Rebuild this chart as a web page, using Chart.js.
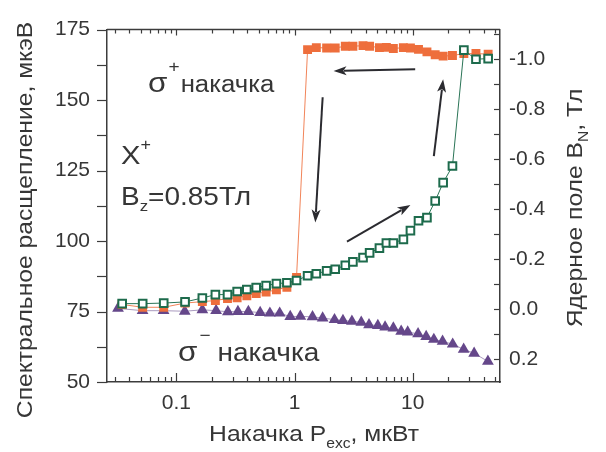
<!DOCTYPE html>
<html>
<head>
<meta charset="utf-8">
<script src="https://cdn.jsdelivr.net/npm/chart.js@4.4.1/dist/chart.umd.min.js"></script>
<style>
  html, body { margin: 0; padding: 0; background: #fff; }
  #wrap { width: 606px; height: 452px; }
</style>
</head>
<body>
<div id="wrap"><canvas id="myChart"></canvas></div>
<script>
// excitation power, uW (square series)
const powerSq = [0.0348, 0.0519, 0.0782, 0.1185, 0.166, 0.214, 0.271, 0.327, 0.395, 0.474,
  0.575, 0.703, 0.862, 1.04, 1.29, 1.53, 1.87, 2.21, 2.69, 3.12, 3.80, 4.32, 5.23, 5.99,
  6.86, 8.34, 9.57, 11.2, 13.2, 15.5, 18.1, 21.7, 27.1, 34.3, 43.5];
// sigma+ pumping, splitting (ueV), filled orange squares
const splitPlus = [77.5, 76.5, 76.5, 78.0, 78.5, 78.9, 79.6, 79.9, 80.6, 81.4,
  81.9, 82.7, 83.6, 87.1, 167.9, 168.6, 168.5, 168.5, 169.1, 169.1, 169.3, 169.1, 168.6, 168.7,
  168.3, 168.6, 168.5, 168.0, 167.1, 166.1, 165.6, 165.8, 166.5, 166.5, 166.3];
// increasing power, open green squares
const splitUp = [77.8, 77.8, 78.0, 78.4, 79.8, 81.0, 81.0, 82.1, 82.8, 83.5,
  84.2, 84.9, 85.2, 86.0, 87.7, 88.4, 89.4, 90.0, 91.4, 92.6, 94.1, 95.8, 97.5, 99.3,
  99.3, 100.6, 103.7, 107.2, 108.3, 114.2, 120.7, 126.6, 167.7, 164.5, 164.7];
// sigma- pumping, triangles
const powerTri = [0.0321, 0.0518, 0.0780, 0.1178, 0.166, 0.217, 0.273, 0.332, 0.407, 0.512,
  0.619, 0.749, 0.920, 1.12, 1.42, 1.73, 2.18, 2.57, 3.06, 3.67, 4.27, 5.07, 5.84, 6.86,
  7.99, 9.07, 11.1, 13.0, 15.1, 17.9, 21.8, 27.0, 33.1, 43.3];
const splitMinus = [76.1, 75.3, 75.3, 75.1, 75.6, 75.3, 74.9, 75.0, 75.0, 74.6,
  74.4, 74.4, 73.2, 73.3, 73.1, 72.7, 72.1, 71.8, 71.5, 71.2, 70.3, 70.0, 69.5, 69.1,
  68.0, 67.7, 67.1, 66.1, 65.1, 64.4, 63.4, 61.6, 60.2, 57.3];

const xMajor = [0.1, 1, 10];
const leftTicks = [50, 75, 100, 125, 150, 175];
const rightTicks = [-1.0, -0.8, -0.6, -0.4, -0.2, 0.0, 0.2];

const FONT = '"Liberation Sans", Arial, sans-serif';
const TXT = '#363636';
const AX = '#3c3c3c';
const SX = 1.12;

const toPts = (xs, ys) => xs.map((x, i) => ({x: x, y: ys[i]}));

// rich text with super/subscripts, slightly stretched like the original
function drawRich(ctx, parts, x, y, rot, align) {
  ctx.save();
  ctx.translate(x, y);
  if (rot) ctx.rotate(rot);
  ctx.scale(SX, 1);
  let total = 0;
  parts.forEach(p => {
    ctx.font = p.size + 'px ' + FONT;
    p.w = ctx.measureText(p.text).width;
    total += p.w + (p.gap || 0);
  });
  let cx = align === 'center' ? -total / 2 : 0;
  ctx.fillStyle = TXT;
  ctx.textBaseline = 'alphabetic';
  parts.forEach(p => {
    ctx.font = p.size + 'px ' + FONT;
    cx += (p.gap || 0);
    ctx.fillText(p.text, cx, p.dy || 0);
    cx += p.w;
  });
  ctx.restore();
}

function arrow(ctx, x1, y1, x2, y2) {
  const a = Math.atan2(y2 - y1, x2 - x1);
  const L = 13, W = 4.5;
  ctx.save();
  ctx.strokeStyle = '#2b2b30';
  ctx.fillStyle = '#2b2b30';
  ctx.lineWidth = 2;
  ctx.beginPath();
  ctx.moveTo(x1, y1);
  ctx.lineTo(x2 - Math.cos(a) * L * 0.8, y2 - Math.sin(a) * L * 0.8);
  ctx.stroke();
  ctx.beginPath();
  ctx.moveTo(x2, y2);
  ctx.lineTo(x2 - Math.cos(a) * L - Math.sin(a) * W, y2 - Math.sin(a) * L + Math.cos(a) * W);
  ctx.lineTo(x2 - Math.cos(a) * L * 0.75, y2 - Math.sin(a) * L * 0.75);
  ctx.lineTo(x2 - Math.cos(a) * L + Math.sin(a) * W, y2 - Math.sin(a) * L - Math.cos(a) * W);
  ctx.closePath();
  ctx.fill();
  ctx.restore();
}

const decor = {
  id: 'decor',
  afterDraw(chart) {
    const ctx = chart.ctx;
    const a = chart.chartArea;
    const sx = chart.scales.x, sy = chart.scales.y, s2 = chart.scales.y2;
    ctx.save();
    ctx.strokeStyle = AX;
    ctx.lineWidth = 1.5;
    // top frame line
    ctx.beginPath();
    ctx.moveTo(a.left, a.top);
    ctx.lineTo(a.right, a.top);
    ctx.stroke();
    ctx.lineWidth = 1.2;
    // log ticks, bottom (inward) and top (inward)
    for (let e = -2; e <= 1; e++) {
      for (let m = 1; m <= 9; m++) {
        const v = m * Math.pow(10, e);
        if (v < sx.min || v > sx.max) continue;
        const px = Math.round(sx.getPixelForValue(v)) + 0.5;
        const major = m === 1;
        ctx.beginPath();
        ctx.moveTo(px, a.bottom);
        ctx.lineTo(px, a.bottom - (major ? 9 : 5));
        ctx.moveTo(px, a.top);
        ctx.lineTo(px, a.top + (major ? 6 : 4));
        ctx.stroke();
      }
    }
    // left ticks outward every 12.5
    for (let v = 50; v <= 175; v += 12.5) {
      const py = Math.round(sy.getPixelForValue(v)) + 0.5;
      ctx.beginPath();
      ctx.moveTo(a.left, py);
      ctx.lineTo(a.left - 10, py);
      ctx.stroke();
    }
    // right ticks inward every 0.1
    for (let k = -11; k <= 2; k++) {
      const py = Math.round(s2.getPixelForValue(k / 10)) + 0.5;
      ctx.beginPath();
      ctx.moveTo(a.right, py);
      ctx.lineTo(a.right - 6, py);
      ctx.stroke();
    }
    ctx.restore();

    // arrows (data coordinates)
    const P = (x, y) => [sx.getPixelForValue(x), sy.getPixelForValue(y)];
    [[10.5, 160.9, 2.14, 160.3], [1.73, 151.0, 1.50, 106.6],
     [2.78, 99.8, 9.57, 112.8], [15.1, 130.1, 18.1, 157.4]].forEach(r => {
      const p1 = P(r[0], r[1]), p2 = P(r[2], r[3]);
      arrow(ctx, p1[0], p1[1], p2[0], p2[1]);
    });

    // annotations
    let p = P(0.0575, 152.7);
    drawRich(ctx, [{text: 'σ', size: 28}, {text: '+', size: 17, dy: -20, gap: 1},
      {text: 'накачка', size: 23, gap: 1}], p[0], p[1]);
    p = P(0.034, 127.5);
    drawRich(ctx, [{text: 'X', size: 26}, {text: '+', size: 16, dy: -14}], p[0], p[1]);
    p = P(0.034, 112.8);
    drawRich(ctx, [{text: 'B', size: 25}, {text: 'z', size: 15, dy: 6},
      {text: '=0.85Тл', size: 25}], p[0], p[1]);
    p = P(0.1033, 57.3);
    drawRich(ctx, [{text: 'σ', size: 28}, {text: '−', size: 17, dy: -20, gap: 2},
      {text: 'накачка', size: 25, gap: 6}], p[0], p[1]);

    // axis titles
    drawRich(ctx, [{text: 'Накачка P', size: 22}, {text: 'exc', size: 14, dy: 7},
      {text: ', мкВт', size: 22}], 314, 441, 0, 'center');
    drawRich(ctx, [{text: 'Спектральное расщепление, мкэВ', size: 22}],
      32, 220, -Math.PI / 2, 'center');
    drawRich(ctx, [{text: 'Ядерное поле B', size: 22}, {text: 'N', size: 14, dy: 6},
      {text: ', Тл', size: 22}], 582, 208, -Math.PI / 2, 'center');
  }
};

const ctx = document.getElementById('myChart');

new Chart(ctx, {
  type: 'scatter',
  data: {
    datasets: [{
      label: 'up',
      data: toPts(powerSq, splitUp),
      showLine: true,
      borderColor: '#2a7456',
      borderWidth: 1,
      pointStyle: 'rect',
      pointRadius: 5.4,
      pointBorderWidth: 2,
      pointBorderColor: '#1d6b4c',
      pointBackgroundColor: '#ffffff'
    }, {
      label: 'sigma+',
      data: toPts(powerSq, splitPlus),
      showLine: true,
      borderColor: 'rgba(238,110,60,0.85)',
      borderWidth: 1,
      pointStyle: 'rect',
      pointRadius: 6.3,
      pointBorderWidth: 0,
      pointBackgroundColor: '#ee6e3c'
    }, {
      label: 'sigma-',
      data: toPts(powerTri, splitMinus),
      showLine: true,
      borderColor: 'rgba(101,71,138,0.55)',
      borderWidth: 1,
      pointStyle: 'triangle',
      pointRadius: 6.8,
      pointBorderWidth: 0,
      pointBackgroundColor: '#65478a'
    }]
  },
  options: {
    responsive: true,
    maintainAspectRatio: false,
    animation: false,
    devicePixelRatio: 1,
    layout: { padding: { top: 24, left: 0, right: 0, bottom: 0 } },
    plugins: { legend: { display: false }, tooltip: { enabled: false } },
    scales: {
      x: {
        type: 'logarithmic',
        position: 'bottom',
        min: 0.0259,
        max: 54.8,
        grid: { drawOnChartArea: false, drawTicks: false },
        border: { color: AX, width: 1.5 },
        ticks: {
          autoSkip: false,
          maxRotation: 0,
          padding: 9,
          color: TXT,
          font: { family: FONT, size: 21 },
          callback: v => {
            const hit = xMajor.find(m => Math.abs(v - m) / m < 1e-6);
            return hit === undefined ? '' : String(hit);
          }
        },
        afterFit: s => { s.height = 70; }
      },
      y: {
        position: 'left',
        min: 50,
        max: 175,
        grid: { drawOnChartArea: false, drawTicks: false },
        border: { color: AX, width: 1.5 },
        ticks: {
          stepSize: 25,
          padding: 17,
          color: TXT,
          font: { family: FONT, size: 21 },
          callback: v => leftTicks.includes(v) ? String(v) : ''
        },
        afterFit: s => { s.width = 107; }
      },
      y2: {
        position: 'right',
        reverse: true,
        min: -1.118,
        max: 0.292,
        grid: { drawOnChartArea: false, drawTicks: false },
        border: { color: AX, width: 1.5 },
        ticks: {
          stepSize: 0.2,
          includeBounds: false,
          padding: 9,
          color: TXT,
          font: { family: FONT, size: 21 },
          callback: v => {
            const hit = rightTicks.find(t => Math.abs(v - t) < 1e-6);
            if (hit === undefined) return '';
            return Math.abs(hit) < 1e-9 ? '0.0' : hit.toFixed(1);
          }
        },
        afterFit: s => { s.width = 106; }
      }
    }
  },
  plugins: [decor]
});
</script>
</body>
</html>
